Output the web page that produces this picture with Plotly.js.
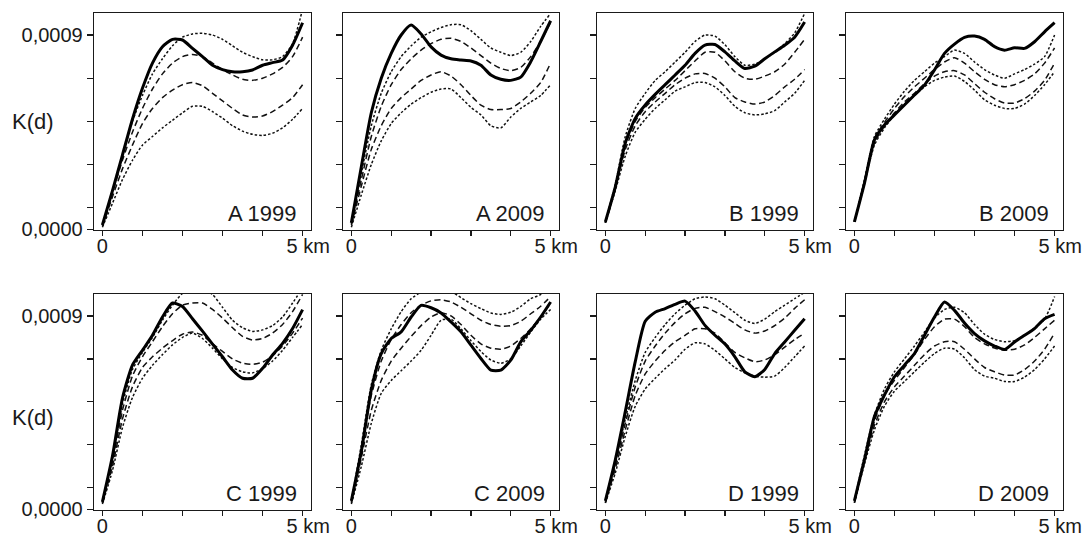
<!DOCTYPE html>
<html>
<head>
<meta charset="utf-8">
<script src="https://cdn.plot.ly/plotly-3.0.1.min.js"></script>
<style>html,body{margin:0;padding:0;background:#fff;}#chart{width:1088px;height:538px;}</style>
</head>
<body>
<div id="chart"></div>
<script>
// Distance (km)
const distances = [0,0.25,0.5,0.75,1,1.25,1.5,1.75,2,2.25,2.5,2.75,3,3.25,3.5,3.75,4,4.25,4.5,4.75,5];
// K(d) values in units of 0.0001
const UNIT = 1e-4;

const panelLabels = ['A 1999','A 2009','B 1999','B 2009','C 1999','C 2009','D 1999','D 2009'];

// A 1999
const A1999_obs    = [0.2,1.78,3.44,5.1,6.53,7.7,8.46,8.8,8.77,8.38,8.0,7.6,7.4,7.3,7.3,7.38,7.6,7.72,7.84,8.53,9.57];
const A1999_hiDot  = [0.2,1.8,3.4,5.0,6.2,7.2,7.9,8.5,8.9,9.05,9.08,9.0,8.8,8.5,8.2,8.0,7.85,7.85,8.0,8.6,10.2];
const A1999_hiDash = [0.2,1.7,3.2,4.5,5.6,6.5,7.2,7.7,8.0,8.1,8.0,7.7,7.4,7.15,6.95,6.9,7.0,7.2,7.5,8.0,8.9];
const A1999_loDash = [0.15,1.5,2.8,3.9,4.9,5.6,6.1,6.45,6.7,6.8,6.65,6.3,5.95,5.6,5.3,5.2,5.25,5.45,5.75,6.1,6.7];
const A1999_loDot  = [0.1,1.2,2.3,3.2,3.9,4.3,4.7,5.05,5.4,5.7,5.7,5.45,5.15,4.8,4.55,4.4,4.35,4.45,4.7,5.1,5.6];
// A 2009
const A2009_obs    = [0.3,2.9,5.4,7.0,8.15,9.0,9.46,9.05,8.45,8.07,7.9,7.84,7.8,7.6,7.15,6.95,6.9,7.05,7.76,8.7,9.66];
const A2009_hiDot  = [0.3,2.6,4.8,6.3,7.3,8.0,8.5,8.9,9.15,9.35,9.48,9.48,9.2,8.8,8.4,8.2,8.05,8.2,8.7,9.4,10.0];
const A2009_hiDash = [0.25,2.3,4.3,5.7,6.7,7.4,7.9,8.3,8.6,8.8,8.85,8.7,8.4,8.05,7.7,7.45,7.35,7.5,8.0,8.7,9.6];
const A2009_loDash = [0.2,2.0,3.7,4.8,5.6,6.1,6.5,6.9,7.15,7.3,7.1,6.7,6.2,5.75,5.55,5.55,5.6,5.9,6.3,6.8,7.7];
const A2009_loDot  = [0.1,1.6,3.0,4.1,4.9,5.4,5.8,6.1,6.35,6.5,6.5,6.1,5.65,5.3,4.8,4.7,5.2,5.6,5.9,6.2,6.7];
// B 1999
const B1999_obs    = [0.35,1.97,4.0,5.14,5.76,6.25,6.7,7.15,7.6,8.15,8.53,8.56,8.22,7.8,7.45,7.56,7.9,8.22,8.53,8.9,9.6];
const B1999_hiDot  = [0.35,2.1,4.3,5.6,6.3,6.9,7.3,7.75,8.2,8.7,9.0,8.95,8.55,8.0,7.6,7.65,7.9,8.2,8.6,9.1,10.0];
const B1999_hiDash = [0.3,2.0,3.9,5.0,5.65,6.1,6.5,6.9,7.35,7.8,8.2,8.2,7.8,7.3,7.0,6.95,7.1,7.3,7.65,8.2,8.8];
const B1999_loDash = [0.3,1.9,3.7,4.8,5.45,5.9,6.3,6.7,7.0,7.2,7.22,7.0,6.6,6.1,5.9,5.8,5.9,6.2,6.6,6.95,7.4];
const B1999_loDot  = [0.3,1.8,3.4,4.5,5.1,5.6,6.0,6.4,6.6,6.8,6.8,6.6,6.2,5.7,5.4,5.3,5.35,5.5,5.9,6.3,6.9];
// B 2009
const B2009_obs    = [0.35,2.13,4.14,4.83,5.3,5.76,6.22,6.68,7.38,8.15,8.58,8.89,8.95,8.8,8.46,8.3,8.41,8.38,8.69,9.15,9.57];
const B2009_hiDot  = [0.35,2.3,4.3,5.1,5.8,6.4,6.9,7.3,7.7,8.0,8.3,8.15,7.75,7.4,7.15,7.0,7.2,7.4,7.65,8.0,9.0];
const B2009_hiDash = [0.35,2.2,4.2,4.95,5.6,6.15,6.6,7.0,7.4,7.75,7.95,7.7,7.3,6.95,6.7,6.6,6.7,6.9,7.2,7.7,8.4];
const B2009_loDash = [0.35,2.1,4.0,4.8,5.4,5.9,6.3,6.75,7.1,7.3,7.35,7.15,6.75,6.35,6.05,5.85,5.85,6.05,6.4,6.9,7.7];
const B2009_loDot  = [0.35,2.1,3.9,4.7,5.3,5.8,6.2,6.6,6.9,7.05,7.1,6.85,6.45,6.0,5.75,5.6,5.6,5.8,6.2,6.7,7.3];
// C 1999
const C1999_obs    = [0.35,2.47,5.17,6.71,7.4,8.1,8.95,9.6,9.44,8.87,8.29,7.69,7.1,6.48,6.1,6.1,6.56,7.18,7.72,8.41,9.29];
const C1999_hiDot  = [0.35,2.3,4.9,6.5,7.3,8.0,8.8,9.5,10.05,10.25,10.25,10.0,9.4,8.8,8.45,8.28,8.35,8.55,8.95,9.6,10.3];
const C1999_hiDash = [0.3,2.2,4.6,6.2,7.1,7.8,8.5,9.1,9.5,9.6,9.6,9.3,8.9,8.45,8.05,7.88,7.95,8.2,8.6,9.2,10.0];
const C1999_loDash = [0.3,2.0,4.2,5.7,6.6,7.1,7.5,7.85,8.15,8.25,8.1,7.7,7.35,7.0,6.8,6.75,6.85,7.15,7.6,8.2,8.9];
const C1999_loDot  = [0.25,1.8,3.8,5.2,6.1,6.7,7.2,7.65,8.0,8.2,7.95,7.5,7.0,6.6,6.4,6.35,6.55,6.9,7.4,8.0,8.6];
// C 2009
const C2009_obs    = [0.4,2.7,5.56,7.25,7.95,8.26,8.95,9.49,9.38,9.14,8.72,8.26,7.64,7.02,6.48,6.48,6.94,7.79,8.33,8.95,9.65];
const C2009_hiDot  = [0.4,3.0,5.8,7.4,8.4,9.2,9.8,10.1,10.25,10.3,10.15,9.85,9.57,9.34,9.14,9.07,9.17,9.44,9.8,10.0,10.6];
const C2009_hiDash = [0.35,2.8,5.3,6.9,7.9,8.6,9.15,9.5,9.7,9.75,9.65,9.4,9.1,8.8,8.6,8.52,8.55,8.75,9.1,9.45,9.9];
const C2009_loDash = [0.3,2.4,4.6,6.0,6.9,7.5,8.05,8.55,8.95,9.15,9.0,8.6,8.1,7.7,7.5,7.45,7.6,7.95,8.4,8.95,9.6];
const C2009_loDot  = [0.25,2.0,4.0,5.4,6.0,6.45,6.9,7.4,8.1,8.8,8.85,8.4,7.85,7.35,6.95,6.8,7.0,7.6,8.25,8.85,9.3];
// D 1999
const D1999_obs    = [0.4,2.31,4.55,6.87,8.75,9.17,9.34,9.54,9.69,9.23,8.56,8.1,7.69,7.1,6.4,6.17,6.51,7.25,7.79,8.33,8.87];
const D1999_hiDot  = [0.4,2.2,4.2,6.0,7.3,8.0,8.6,9.1,9.5,9.8,9.88,9.8,9.5,9.15,8.8,8.65,8.85,9.2,9.5,9.8,10.1];
const D1999_hiDash = [0.35,2.1,4.0,5.7,6.9,7.6,8.2,8.7,9.1,9.35,9.4,9.2,8.95,8.65,8.35,8.2,8.3,8.55,8.9,9.35,9.75];
const D1999_loDash = [0.3,1.9,3.7,5.3,6.3,6.9,7.4,7.8,8.1,8.4,8.4,8.2,7.75,7.3,7.05,6.87,6.95,7.2,7.55,7.9,8.2];
const D1999_loDot  = [0.3,1.7,3.4,4.8,5.6,6.1,6.55,6.95,7.45,7.75,7.7,7.4,7.0,6.6,6.35,6.2,6.15,6.2,6.6,7.1,7.6];
// D 2009
const D2009_obs    = [0.4,2.31,4.32,5.32,6.17,6.71,7.25,8.1,8.95,9.65,9.26,8.67,8.18,7.84,7.6,7.44,7.79,8.1,8.41,8.87,9.07];
const D2009_hiDot  = [0.4,2.5,4.4,5.6,6.4,7.0,7.6,8.25,8.9,9.3,9.4,9.15,8.6,8.15,7.9,7.8,7.85,8.1,8.45,8.85,9.9];
const D2009_hiDash = [0.35,2.3,4.1,5.3,6.0,6.6,7.2,7.9,8.5,8.85,8.85,8.5,8.0,7.7,7.5,7.4,7.45,7.65,8.0,8.4,8.8];
const D2009_loDash = [0.3,2.2,3.9,5.0,5.7,6.2,6.7,7.2,7.6,7.8,7.8,7.45,7.0,6.6,6.4,6.25,6.25,6.5,6.9,7.45,8.2];
const D2009_loDot  = [0.3,2.1,3.7,4.8,5.5,5.95,6.4,6.85,7.25,7.5,7.45,7.05,6.5,6.2,6.1,5.95,5.95,6.15,6.5,7.0,7.6];

const panels = [
  [A1999_obs, A1999_hiDot, A1999_hiDash, A1999_loDash, A1999_loDot],
  [A2009_obs, A2009_hiDot, A2009_hiDash, A2009_loDash, A2009_loDot],
  [B1999_obs, B1999_hiDot, B1999_hiDash, B1999_loDash, B1999_loDot],
  [B2009_obs, B2009_hiDot, B2009_hiDash, B2009_loDash, B2009_loDot],
  [C1999_obs, C1999_hiDot, C1999_hiDash, C1999_loDash, C1999_loDot],
  [C2009_obs, C2009_hiDot, C2009_hiDash, C2009_loDash, C2009_loDot],
  [D1999_obs, D1999_hiDot, D1999_hiDash, D1999_loDash, D1999_loDot],
  [D2009_obs, D2009_hiDot, D2009_hiDash, D2009_loDash, D2009_loDot]
];

const xTickVals = [0,1,2,3,4,5];
const xTickText = ['0','','','','','\u00a0\u00a05 km'];
const yTickVals = [0,1,3,5,7,9].map(v => v*UNIT);
const yTickTextFirst = ['0,0000','','','','','0,0009'];
const yTickTextOther = ['','','','','',''];

const W = 1088, H = 538;
const colPx = [[94,311],[343,559],[597,813],[846,1063]];
const rowPx = [[13,230],[294,510]];

const FONT = 'Liberation Sans, Arial, sans-serif';
const INK = '#1a1a1a';

const styles = [
  {color:'#000', width:3, dash:'solid'},
  {color:'#111', width:1.5, dash:'2.5px,2px'},
  {color:'#111', width:1.5, dash:'6px,3.5px'},
  {color:'#111', width:1.5, dash:'6px,3.5px'},
  {color:'#111', width:1.5, dash:'2.5px,2px'}
];

const traces = [];
const layout = {
  width: W, height: H,
  margin: {l:0, r:0, t:0, b:0},
  paper_bgcolor: '#fff', plot_bgcolor: '#fff',
  showlegend: false,
  font: {family: FONT, size: 20, color: INK},
  annotations: []
};

panels.forEach((series, i) => {
  const row = Math.floor(i/4), col = i % 4;
  const n = i + 1;
  const xa = 'x' + (n === 1 ? '' : n), ya = 'y' + (n === 1 ? '' : n);
  // draw envelopes first, observed on top
  [4,3,2,1,0].forEach(k => {
    traces.push({
      x: distances, y: series[k].map(v => v*UNIT),
      xaxis: xa, yaxis: ya, type: 'scatter', mode: 'lines',
      line: {color: styles[k].color, width: styles[k].width, dash: styles[k].dash, shape: 'spline', smoothing: 0.6},
      hoverinfo: 'skip'
    });
  });
  const xd = [colPx[col][0]/W, colPx[col][1]/W];
  const yd = [(H - rowPx[row][1])/H, (H - rowPx[row][0])/H];
  layout['xaxis' + (n === 1 ? '' : n)] = {
    domain: xd, anchor: ya, range: [-0.21, 5.21],
    tickvals: xTickVals, ticktext: xTickText,
    ticks: 'outside', ticklen: 5, tickwidth: 1.2, tickcolor: INK,
    ticklabelstandoff: -7,
    showline: true, mirror: true, linecolor: INK, linewidth: 1.3,
    showgrid: false, zeroline: false, fixedrange: true,
    tickfont: {family: FONT, size: 20, color: INK}
  };
  layout['yaxis' + (n === 1 ? '' : n)] = {
    domain: yd, anchor: xa, range: [-0.03*UNIT, 10.02*UNIT],
    tickvals: yTickVals, ticktext: col === 0 ? yTickTextFirst : yTickTextOther,
    ticks: 'outside', ticklen: 6, tickwidth: 1.2, tickcolor: INK,
    showline: true, mirror: true, linecolor: INK, linewidth: 1.3,
    showgrid: false, zeroline: false, fixedrange: true,
    tickfont: {family: FONT, size: 20, color: INK}
  };
  layout.annotations.push({
    text: panelLabels[i], showarrow: false,
    xref: xa + ' domain', yref: ya + ' domain',
    x: 1, y: 0, xanchor: 'right', yanchor: 'middle', xshift: -12, yshift: 17,
    font: {family: FONT, size: 22, color: INK}
  });
});

[122, 417].forEach(py => {
  layout.annotations.push({
    text: 'K(d)', showarrow: false, xref: 'paper', yref: 'paper',
    x: 33/W, y: (H - py)/H, xanchor: 'center', yanchor: 'middle',
    font: {family: FONT, size: 22, color: INK}
  });
});

Plotly.newPlot('chart', traces, layout, {staticPlot: true, displayModeBar: false});
</script>
</body>
</html>
